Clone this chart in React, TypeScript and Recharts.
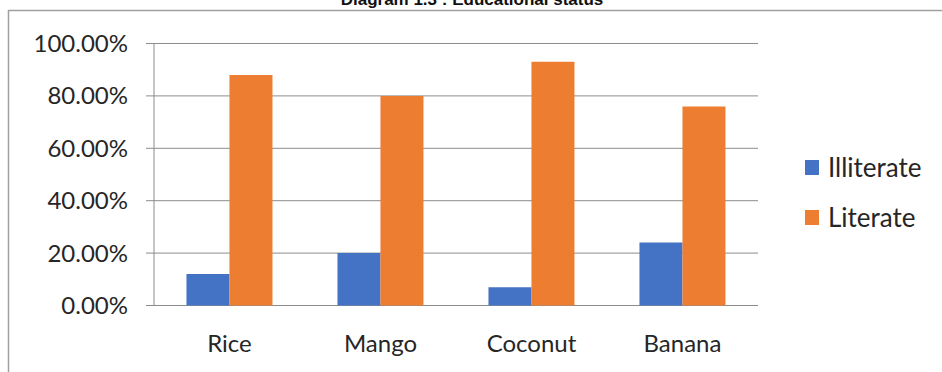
import { BarChart, Bar, XAxis, YAxis, CartesianGrid, Legend } from "recharts";

const crops = ["Rice", "Mango", "Coconut", "Banana"];
const illiterate = [12, 20, 7, 24];
const literate = [88, 80, 93, 76];
const yTicks = [0, 20, 40, 60, 80, 100];
const edgeTicks = [0, 1, 2, 3, 4];

const BLUE = "#4472C4";
const ORANGE = "#ED7D31";
const GRID = "#8c8c8c";
const FONT = "Lato, 'Open Sans', sans-serif";

const data = crops.map((name, i) => ({
  name,
  Illiterate: illiterate[i],
  Literate: literate[i],
}));

function LegendBox() {
  const items = [
    { label: "Illiterate", color: BLUE },
    { label: "Literate", color: ORANGE },
  ];
  return (
    <div style={{ fontFamily: FONT, fontSize: 26, color: "#262626" }}>
      {items.map((it) => (
        <div key={it.label} style={{ display: "flex", alignItems: "center", height: 50 }}>
          <span style={{ width: 14, height: 15, background: it.color, marginRight: 9, display: "inline-block" }} />
          <span>{it.label}</span>
        </div>
      ))}
    </div>
  );
}

export default function App() {
  return (
    <div style={{ position: "absolute", left: 0, top: 0, width: 942, height: 372, overflow: "hidden", background: "#fff" }}>
      <svg width={942} height={372} style={{ position: "absolute", left: 0, top: 0 }}>
        <text
          x={472}
          y={4.5}
          textAnchor="middle"
          fontFamily="'Liberation Sans', Arial, sans-serif"
          fontWeight="bold"
          fontSize={17}
          fill="#111"
        >
          Diagram 1.3 : Educational status
        </text>
        <line x1={8} y1={10.5} x2={942} y2={10.5} stroke="#a0a0a0" strokeWidth={1.5} />
        <line x1={8.5} y1={10} x2={8.5} y2={372} stroke="#a0a0a0" strokeWidth={1.5} />
      </svg>
      <div style={{ position: "absolute", left: 0, top: 0 }}>
        <BarChart
          width={942}
          height={372}
          data={data}
          margin={{ top: 43.5, right: 184, bottom: 0.5, left: 0 }}
          barCategoryGap="21.5%"
          barGap={0}
        >
          <CartesianGrid vertical={false} stroke={GRID} />
          <XAxis
            xAxisId="edge"
            type="number"
            domain={[0, 4]}
            ticks={edgeTicks}
            allowDataOverflow
            height={0}
            tick={false}
            tickSize={8}
            stroke={GRID}
          />
          <XAxis
            dataKey="name"
            height={66}
            axisLine={false}
            tickLine={false}
            tickSize={8}
            tickMargin={21}
            tick={{ fontSize: 24, fontFamily: FONT, fill: "#262626" }}
            interval={0}
          />
          <YAxis
            width={154}
            domain={[0, 100]}
            ticks={yTicks}
            tickFormatter={(v: number) => `${v.toFixed(2)}%`}
            tickSize={8}
            tickMargin={18}
            stroke={GRID}
            tick={{ fontSize: 24, fontFamily: FONT, fill: "#262626" }}
          />
          <Legend
            layout="horizontal"
            align="center"
            verticalAlign="middle"
            wrapperStyle={{ left: 805, top: 142, width: 140 }}
            content={() => <LegendBox />}
          />
          <Bar dataKey="Illiterate" fill={BLUE} isAnimationActive={false} />
          <Bar dataKey="Literate" fill={ORANGE} isAnimationActive={false} />
        </BarChart>
      </div>
    </div>
  );
}
